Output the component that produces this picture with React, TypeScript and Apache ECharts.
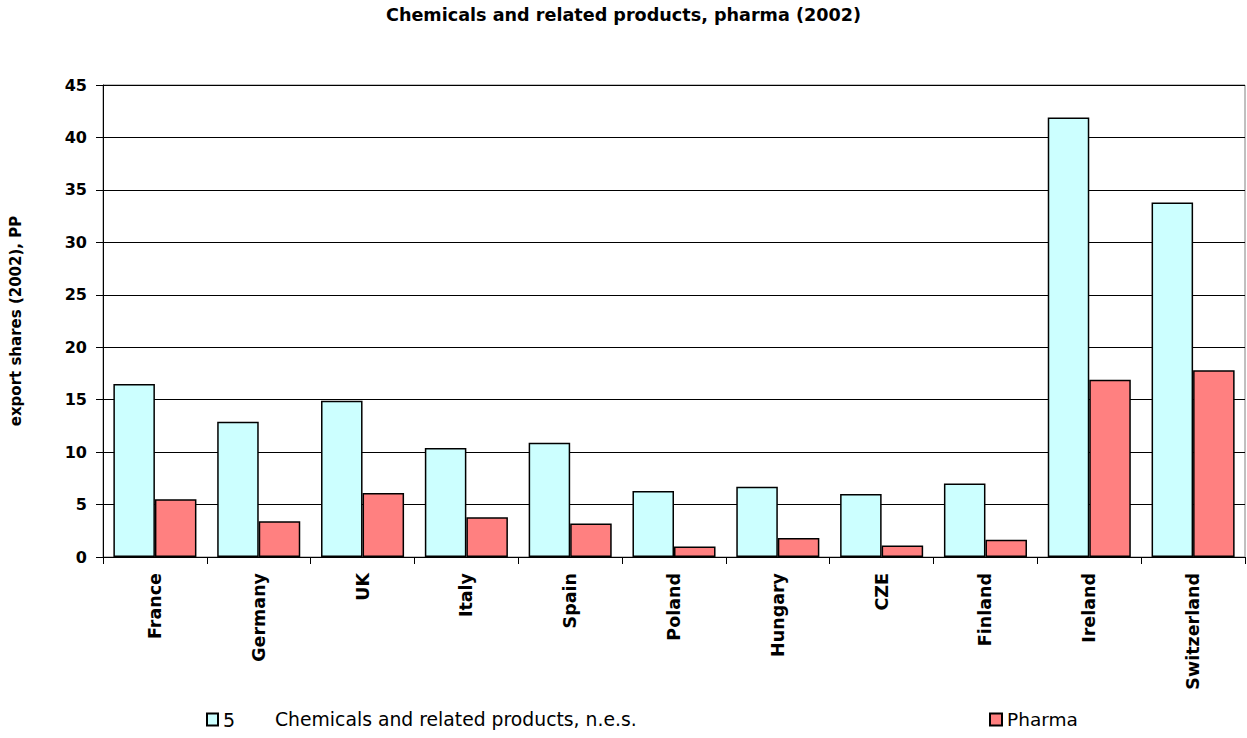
import React, { useEffect, useRef } from "react";
import * as echarts from "echarts";

const categories = ["France", "Germany", "UK", "Italy", "Spain", "Poland", "Hungary", "CZE", "Finland", "Ireland", "Switzerland"];
const chemicals = [16.5, 12.9, 14.9, 10.4, 10.9, 6.3, 6.7, 6.0, 7.0, 41.9, 33.8];
const pharma = [5.5, 3.4, 6.1, 3.8, 3.2, 1.0, 1.8, 1.1, 1.65, 16.9, 17.8];
const yTicks = { min: 0, max: 45, interval: 5 };
const seriesNames = ["5      Chemicals and related products, n.e.s.", "Pharma"];

const FONT = "DejaVu Sans";

export default function App() {
  const ref = useRef<HTMLDivElement>(null);
  useEffect(() => {
    if (!ref.current) return;
    const chart = echarts.init(ref.current, null, { renderer: "svg" });
    chart.setOption({
      animation: false,
      backgroundColor: "#ffffff",
      title: {
        text: "Chemicals and related products, pharma (2002)",
        left: "center",
        top: 6,
        padding: 0,
        textStyle: { fontFamily: FONT, fontSize: 17.6, fontWeight: "bold", color: "#000" },
      },
      legend: [
        {
          data: [seriesNames[0]],
          left: 206,
          top: 710,
          padding: 0,
          icon: "rect",
          itemWidth: 11,
          itemHeight: 12,
          formatter: () => "{a|5}{b|Chemicals and related products, n.e.s.}",
          textStyle: {
            fontFamily: FONT,
            fontSize: 19,
            color: "#000",
            rich: {
              a: { width: 52, fontFamily: FONT, fontSize: 19, color: "#000" },
              b: { fontFamily: FONT, fontSize: 18.8, color: "#000" },
            },
          },
        },
        {
          data: [seriesNames[1]],
          left: 989,
          top: 710,
          padding: 0,
          icon: "rect",
          itemWidth: 12,
          itemHeight: 12,
          textStyle: { fontFamily: FONT, fontSize: 18.5, color: "#000" },
        },
      ],
      grid: {
        left: 98,
        right: 2,
        top: 85,
        bottom: 181,
        show: true,
        borderColor: "#808080",
        borderWidth: 1,
        containLabel: false,
      },
      xAxis: {
        type: "category",
        data: categories,
        axisLine: { show: true, lineStyle: { color: "#000", width: 1 } },
        axisTick: { show: true, length: 7, alignWithLabel: false, lineStyle: { color: "#000" } },
        axisLabel: {
          rotate: 90,
          interval: 0,
          margin: 16,
          fontFamily: FONT,
          fontSize: 17.5,
          fontWeight: "bold",
          color: "#000",
        },
      },
      yAxis: {
        type: "value",
        min: yTicks.min,
        max: yTicks.max,
        interval: yTicks.interval,
        name: "export shares (2002), PP",
        nameLocation: "middle",
        nameRotate: 90,
        nameGap: 80,
        nameTextStyle: { fontFamily: FONT, fontSize: 15, fontWeight: "bold", color: "#000" },
        axisLine: { show: true, lineStyle: { color: "#000", width: 1 } },
        axisTick: { show: true, length: 7, lineStyle: { color: "#000" } },
        axisLabel: { margin: 16, fontFamily: FONT, fontSize: 16, fontWeight: "bold", color: "#000" },
        splitLine: { show: true, lineStyle: { color: "#000", width: 1 } },
      },
      series: [
        {
          name: seriesNames[0],
          type: "bar",
          data: chemicals,
          barGap: "0%",
          barCategoryGap: "20%",
          itemStyle: { color: "#CCFFFF", borderColor: "#000", borderWidth: 1.5 },
        },
        {
          name: seriesNames[1],
          type: "bar",
          data: pharma,
          barGap: "0%",
          barCategoryGap: "20%",
          itemStyle: { color: "#FF8080", borderColor: "#000", borderWidth: 1.5 },
        },
      ],
    });
    return () => chart.dispose();
  }, []);
  return <div ref={ref} style={{ width: 1247, height: 738, position: "absolute", left: 0, top: 0 }} />;
}
